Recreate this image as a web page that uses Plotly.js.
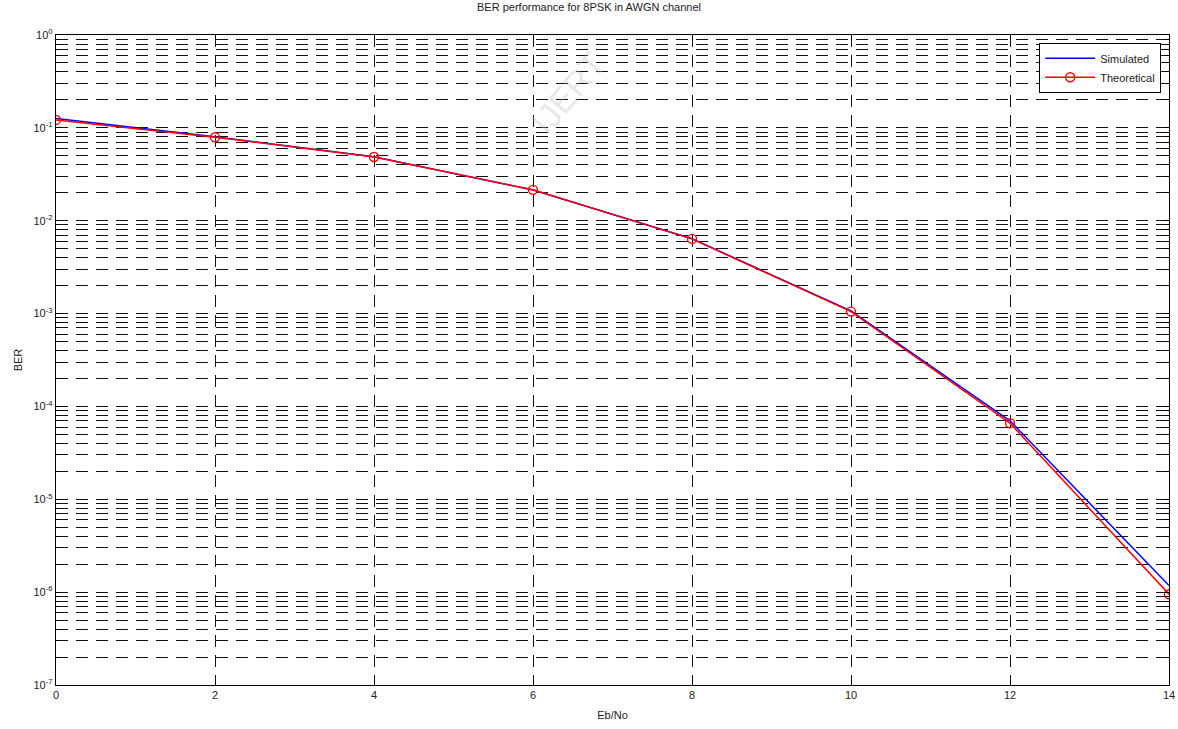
<!DOCTYPE html>
<html><head><meta charset="utf-8">
<script src="https://cdn.plot.ly/plotly-3.0.1.min.js"></script>
<style>html,body{margin:0;padding:0;background:#fff}#chart{width:1178px;height:729px}</style>
</head><body><div id="chart"></div>
<script>
const ebno = [0, 2, 4, 6, 8, 10, 12, 14];
const simulated = [0.126, 0.080, 0.0488, 0.0214, 0.0064, 0.00107, 7.0e-5, 1.18e-6];
const theoretical = [0.1217, 0.0792, 0.0486, 0.0215, 0.00637, 0.00105, 6.6e-5, 9.5e-7];
const yTickVals = [1e-7, 1e-6, 1e-5, 1e-4, 1e-3, 1e-2, 1e-1, 1];
const yTickText = ['10<sup>-7</sup>','10<sup>-6</sup>','10<sup>-5</sup>','10<sup>-4</sup>','10<sup>-3</sup>','10<sup>-2</sup>','10<sup>-1</sup>','10<sup>0</sup>'];
const xTickVals = [0, 2, 4, 6, 8, 10, 12, 14];

const font = {family: 'Liberation Sans, Arial, sans-serif', size: 11, color: '#222'};
const gridDash = '12px,8px';

const traces = [
  {x: ebno, y: simulated, name: 'Simulated', mode: 'lines',
   line: {color: '#0000ff', width: 1.5}},
  {x: ebno, y: theoretical, name: 'Theoretical', mode: 'lines+markers',
   line: {color: '#ff0000', width: 1.5},
   marker: {symbol: 'circle-open', size: 9, color: '#ff0000', line: {width: 1.4, color: '#ff0000'}}}
];

const layout = {
  width: 1178, height: 729,
  margin: {l: 56, r: 9, t: 35, b: 44},
  paper_bgcolor: '#fff', plot_bgcolor: '#fff',
  font: font,
  showlegend: true,
  title: {text: 'BER performance for 8PSK in AWGN channel', font: {family: font.family, size: 11, color: '#222'}, x: 0.5, xanchor: 'center', y: 0.995, yanchor: 'top'},
  xaxis: {
    range: [0, 14], tickvals: xTickVals, ticktext: xTickVals.map(String),
    showline: true, linecolor: '#000', linewidth: 1.2, mirror: 'ticks',
    ticks: 'inside', ticklen: 5, tickcolor: '#000',
    showgrid: true, gridcolor: '#111', gridwidth: 1, griddash: gridDash,
    zeroline: false,
    title: {text: 'Eb/No', font: {family: font.family, size: 11, color: '#222'}, standoff: 10}
  },
  yaxis: {
    type: 'log', range: [-7, 0], tickvals: yTickVals, ticktext: yTickText,
    showline: true, linecolor: '#000', linewidth: 1.2, mirror: 'ticks',
    ticks: 'inside', ticklen: 5, tickcolor: '#000',
    showgrid: true, gridcolor: '#111', gridwidth: 1, griddash: gridDash,
    zeroline: false,
    minor: {dtick: 'D1', showgrid: true, gridcolor: '#111', gridwidth: 1, griddash: gridDash, ticks: 'inside', ticklen: 3, tickcolor: '#000'},
    title: {text: 'BER', font: {family: font.family, size: 11, color: '#222'}, standoff: 8}
  },
  legend: {
    x: 0.993, y: 0.988, xanchor: 'right', yanchor: 'top',
    bgcolor: '#fff', bordercolor: '#000', borderwidth: 1,
    font: {family: font.family, size: 11, color: '#222'},
    tracegroupgap: 0, itemwidth: 50
  },
  annotations: [
    {text: 'IJERT', xref: 'paper', yref: 'paper', x: 0.46, y: 0.99, showarrow: false,
     textangle: -50, font: {family: font.family, size: 34, color: 'rgba(190,190,190,0.35)'}}
  ]
};

Plotly.newPlot('chart', traces, layout, {displayModeBar: false, staticPlot: true});
</script></body></html>
